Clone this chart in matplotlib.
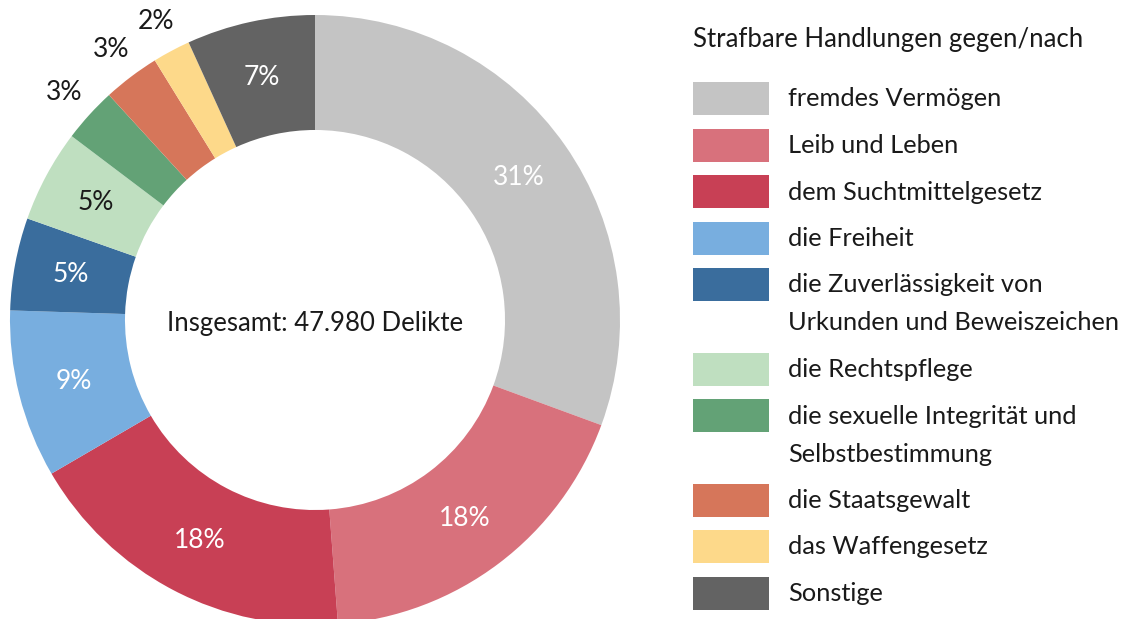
import matplotlib
matplotlib.use("Agg")
import matplotlib.pyplot as plt
from matplotlib.patches import Rectangle
import numpy as np

plt.rcParams['font.family'] = ['Lato', 'DejaVu Sans']

# data
categories = ['fremdes Vermögen', 'Leib und Leben', 'dem Suchtmittelgesetz',
              'die Freiheit', 'die Zuverlässigkeit von\nUrkunden und Beweiszeichen',
              'die Rechtspflege', 'die sexuelle Integrität und\nSelbstbestimmung',
              'die Staatsgewalt', 'das Waffengesetz', 'Sonstige']
shares = [30.6, 18.2, 17.8, 8.9, 4.9, 4.9, 2.9, 3.0, 2.0, 6.8]
colors = ['#c4c4c4', '#d8717c', '#c84055', '#78aedf', '#3a6d9d',
          '#bfdfc0', '#63a276', '#d6765a', '#fdd98a', '#636363']
label_colors = ['white', 'white', 'white', 'white', 'white',
                '#1a1a1a', '#1a1a1a', '#1a1a1a', '#1a1a1a', 'white']
outside = [False, False, False, False, False, False, True, True, True, False]
title = 'Strafbare Handlungen gegen/nach'
total_text = 'Insgesamt: 47.980 Delikte'

W, H = 1133, 619
fig = plt.figure(figsize=(W / 100, H / 100), dpi=100)

# donut
ax = fig.add_axes([10 / W, (H - 625) / H, 610 / W, 610 / H])
wedges, _ = ax.pie(shares, colors=colors, startangle=90, counterclock=False,
                   radius=1.0, wedgeprops=dict(width=0.377, linewidth=0))
ax.set_xlim(-1, 1)
ax.set_ylim(-1, 1)
ax.set_aspect('equal')
ax.axis('off')

for w, s, c, out in zip(wedges, shares, label_colors, outside):
    mid = np.deg2rad((w.theta1 + w.theta2) / 2)
    r = 1.11 if out else 0.815
    ax.text(r * np.cos(mid), r * np.sin(mid), '%.0f%%' % s, color=c,
            fontsize=19, ha='center', va='center')

ax.text(0, -0.01, total_text, fontsize=18.5, ha='center', va='center', color='#1a1a1a')

# legend
lg = fig.add_axes([0, 0, 1, 1])
lg.set_xlim(0, W)
lg.set_ylim(H, 0)
lg.axis('off')
lg.text(693, 40, title, fontsize=18.5, ha='left', va='center', color='#1a1a1a')
y = 82
for name, col in zip(categories, colors):
    lg.add_patch(Rectangle((693, y), 76, 33, facecolor=col, edgecolor='none'))
    lines = name.split('\n')
    for i, line in enumerate(lines):
        lg.text(788, y + 17 + i * 38, line, fontsize=18.3, ha='left',
                va='center', color='#1a1a1a')
    y += 46.5 + (len(lines) - 1) * 38

fig.savefig('out.png', dpi=100)
